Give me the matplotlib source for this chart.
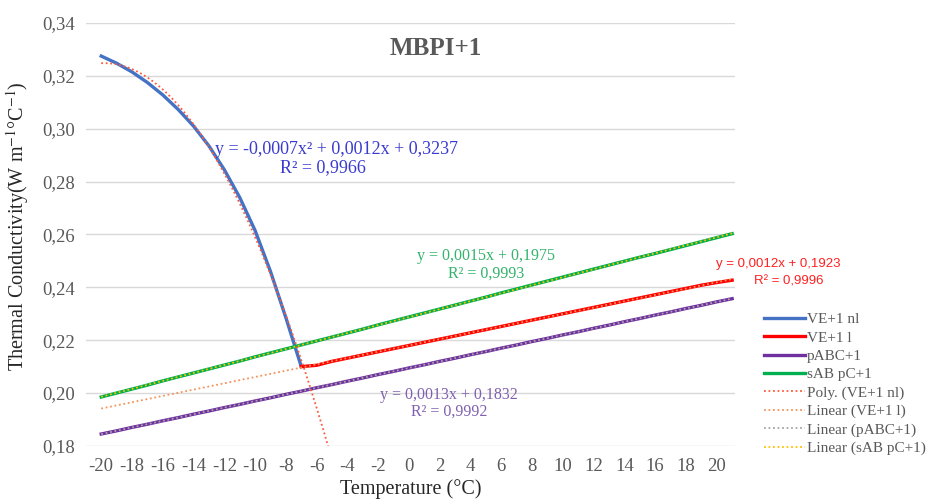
import numpy as np
import matplotlib
matplotlib.use("Agg")
import matplotlib.pyplot as plt

plt.rcParams["mathtext.fontset"] = "stix"

# categories (°C), one per degree
temps = list(range(-20, 22))
tick_labels = list(range(-20, 21, 2))

# VE+1 nl : -20 .. -7
ve_nl = [0.3275, 0.3248, 0.3215, 0.3175, 0.3128, 0.3073, 0.3010,
         0.2935, 0.2845, 0.2740, 0.2615, 0.2460, 0.2285, 0.2100]
# VE+1 l : -7 .. 21
ve_l = [0.2100, 0.2105, 0.2120, 0.2132, 0.2144, 0.2156, 0.2168, 0.2180,
        0.2192, 0.2204, 0.2216, 0.2228, 0.2240, 0.2252, 0.2264, 0.2276,
        0.2288, 0.2300, 0.2312, 0.2324, 0.2336, 0.2348, 0.2360, 0.2372,
        0.2384, 0.2396, 0.2408, 0.2418, 0.2427]
# pABC+1 : -20 .. 21
pabc = [0.1845, 0.1857, 0.1870, 0.1882, 0.1895, 0.1907, 0.1920, 0.1932,
        0.1945, 0.1957, 0.1970, 0.1982, 0.1995, 0.2007, 0.2020, 0.2032,
        0.2045, 0.2057, 0.2070, 0.2082, 0.2095, 0.2107, 0.2120, 0.2132,
        0.2145, 0.2157, 0.2170, 0.2182, 0.2195, 0.2207, 0.2220, 0.2232,
        0.2245, 0.2257, 0.2270, 0.2282, 0.2295, 0.2307, 0.2320, 0.2332,
        0.2345, 0.2357]
# sAB pC+1 : -20 .. 21
sab = [0.1985, 0.2000, 0.2015, 0.2030, 0.2046, 0.2061, 0.2076, 0.2091,
       0.2106, 0.2121, 0.2137, 0.2152, 0.2167, 0.2182, 0.2197, 0.2212,
       0.2227, 0.2242, 0.2258, 0.2273, 0.2288, 0.2303, 0.2318, 0.2333,
       0.2348, 0.2363, 0.2379, 0.2394, 0.2409, 0.2424, 0.2439, 0.2454,
       0.2469, 0.2484, 0.2499, 0.2514, 0.2528, 0.2543, 0.2558, 0.2573,
       0.2588, 0.2603]

eq_nl = ["y = -0,0007x² + 0,0012x + 0,3237", "R² = 0,9966"]
eq_l = ["y = 0,0012x + 0,1923", "R² = 0,9996"]
eq_pabc = ["y = 0,0013x + 0,1832", "R² = 0,9992"]
eq_sab = ["y = 0,0015x + 0,1975", "R² = 0,9993"]

serif = ["Liberation Serif", "DejaVu Serif"]
grey = "#595959"

fig = plt.figure(figsize=(9.33, 5.01), dpi=100)
ax = fig.add_axes([0.092, 0.110, 0.696, 0.844])

t = np.array(temps)
idx = t - t[0] + 1  # excel category index used by trendlines
t_nl = t[:len(ve_nl)]
t_l = t[len(t) - len(ve_l):]

c_blue, c_red, c_purple, c_green = "#4472C4", "#FF0000", "#7030A0", "#00B050"

ax.plot(t_nl, ve_nl, color=c_blue, lw=2.4, label="VE+1 nl", zorder=3)
ax.plot(t_l, ve_l, color=c_red, lw=2.4, label="VE+1 l", zorder=3)
ax.plot(t, pabc, color=c_purple, lw=2.4, label="pABC+1", zorder=3)
ax.plot(t, sab, color=c_green, lw=2.4, label="sAB pC+1", zorder=3)

# trendlines
dots = (0, (1, 1.5))
p_nl = np.polyfit(idx[:len(ve_nl)], ve_nl, 2)
tx = np.linspace(1, len(ve_nl) + 2, 200)
ax.plot(tx + t[0] - 1, np.polyval(p_nl, tx), color="#FF5A3C", lw=1.3,
        ls=dots, label="Poly. (VE+1 nl)", zorder=4)
p_l = np.polyfit(idx[len(t) - len(ve_l):], ve_l, 1)
ax.plot(t, np.polyval(p_l, idx), color="#F4945A", lw=1.3,
        ls=dots, label="Linear (VE+1 l)", zorder=4)
p_p = np.polyfit(idx, pabc, 1)
ax.plot(t, np.polyval(p_p, idx), color="#A6A6A6", lw=1.3,
        ls=dots, label="Linear (pABC+1)", zorder=4)
p_s = np.polyfit(idx, sab, 1)
ax.plot(t, np.polyval(p_s, idx), color="#FFC000", lw=1.3,
        ls=dots, label="Linear (sAB pC+1)", zorder=4)

ax.set_xlim(-21, 21.2)
ax.set_ylim(0.18, 0.34)
yt = np.arange(0.18, 0.3401, 0.02)
ax.set_yticks(yt)
ax.set_yticklabels([f"{v:.2f}".replace(".", ",") for v in yt])
ax.set_xticks(tick_labels)
ax.set_xticklabels([str(v) for v in tick_labels])
for lab in ax.get_xticklabels() + ax.get_yticklabels():
    lab.set_family(serif)
    lab.set_fontsize(13.5)
    lab.set_color(grey)
ax.tick_params(axis="y", length=0, pad=8)
ax.tick_params(axis="x", length=0, pad=9)
ax.grid(axis="y", color="#D9D9D9", lw=1)
for s in ax.spines.values():
    s.set_visible(False)
ax.set_axisbelow(True)

ax.set_xlabel("Temperature (°C)", family=serif, fontsize=14.5, color="#262626", labelpad=3)
ax.set_ylabel("Thermal Conductivity(W m$^{-1}$°C$^{-1}$)", family=serif, fontsize=14.5,
              color="#262626")
ax.yaxis.set_label_coords(-0.085, 0.52)

ax.text(1.75, 0.3305, "MBPI+1", family=serif, fontsize=18, fontweight="bold",
        color=grey, ha="center", va="center")

# trendline equations
ax.text(-4.7, 0.2921, eq_nl[0], family=serif, fontsize=13, color="#3A3AD0",
        ha="center", va="center")
ax.text(-5.6, 0.2853, eq_nl[1], family=serif, fontsize=13, color="#3A3AD0",
        ha="center", va="center")
ax.text(5.0, 0.2517, eq_sab[0], family=serif, fontsize=11.5, color="#33B36B",
        ha="center", va="center")
ax.text(5.0, 0.2453, eq_sab[1], family=serif, fontsize=11.5, color="#33B36B",
        ha="center", va="center")
ax.text(2.6, 0.1992, eq_pabc[0], family=serif, fontsize=11.5, color="#8060B0",
        ha="center", va="center")
ax.text(2.6, 0.1928, eq_pabc[1], family=serif, fontsize=11.5, color="#8060B0",
        ha="center", va="center")
ax.text(24.0, 0.2487, eq_l[0], family="Liberation Sans", fontsize=9.5, color="#FF2020",
        ha="center", va="center", clip_on=False)
ax.text(24.7, 0.2423, eq_l[1], family="Liberation Sans", fontsize=9.5, color="#FF2020",
        ha="center", va="center", clip_on=False)

handles, labels = ax.get_legend_handles_labels()
leg = fig.legend(handles, labels, loc="upper left", bbox_to_anchor=(0.812, 0.388),
                 frameon=False, prop={"family": serif, "size": 11},
                 handlelength=2.7, handletextpad=0.15, labelspacing=0.3,
                 borderaxespad=0)
for txt in leg.get_texts():
    txt.set_color(grey)

fig.savefig("out.png", dpi=100)
